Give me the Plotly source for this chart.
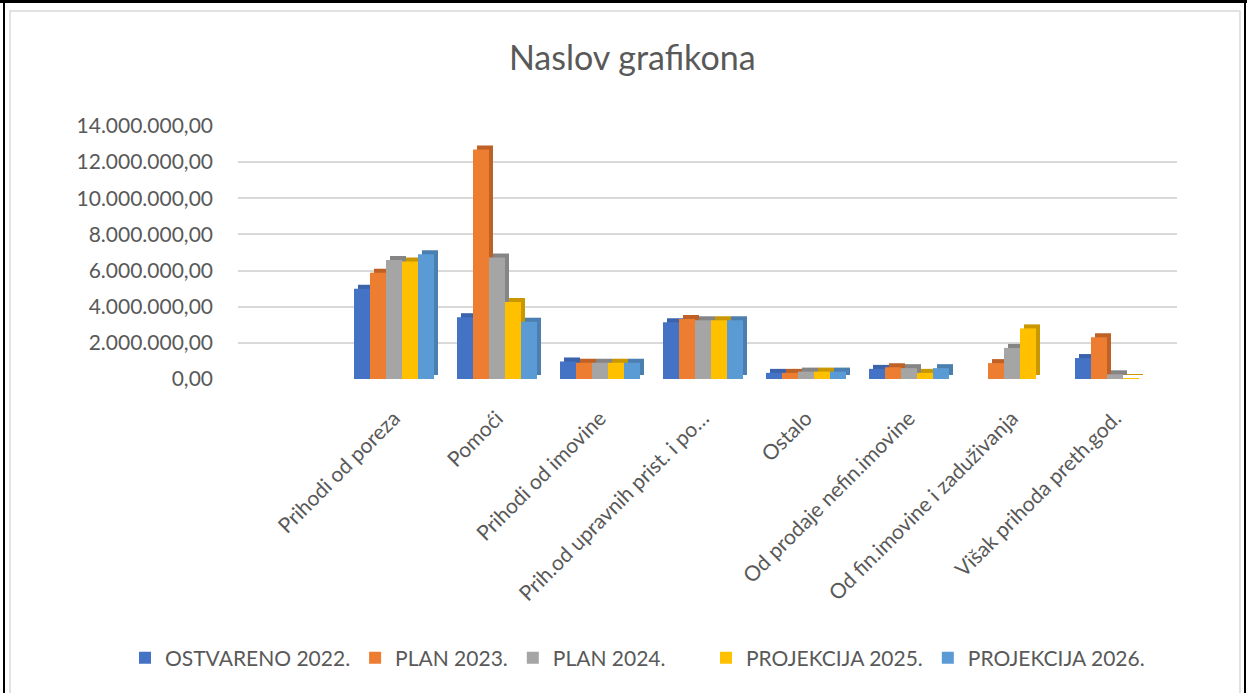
import plotly.graph_objects as go

categories = [
    "Prihodi od poreza", "Pomoći", "Prihodi od imovine",
    "Prih.od upravnih prist. i po…", "Ostalo", "Od prodaje nefin.imovine",
    "Od fin.imovine i zaduživanja", "Višak prihoda preth.god.",
]
series_names = ["OSTVARENO 2022.", "PLAN 2023.", "PLAN 2024.", "PROJEKCIJA 2025.", "PROJEKCIJA 2026."]
ostvareno_2022 = [5000000, 3420000, 970000, 3140000, 340000, 560000, 0, 1160000]
plan_2023 = [5880000, 12700000, 900000, 3320000, 340000, 650000, 880000, 2310000]
plan_2024 = [6590000, 6720000, 900000, 3250000, 410000, 600000, 1720000, 260000]
projekcija_2025 = [6500000, 4260000, 900000, 3250000, 410000, 340000, 2800000, 50000]
projekcija_2026 = [6900000, 3170000, 900000, 3250000, 410000, 600000, 0, 0]
y_tick_values = [0, 2000000, 4000000, 6000000, 8000000, 10000000, 12000000, 14000000]

series_values = [ostvareno_2022, plan_2023, plan_2024, projekcija_2025, projekcija_2026]
front_colors = ["#4472C4", "#ED7D31", "#A5A5A5", "#FFC000", "#5B9BD5"]
shade_colors = ["#3A63AC", "#BE6127", "#858585", "#C99700", "#4A7FAF"]
legend_groups = ["legend", "legend", "legend", "legend2", "legend2"]

W, H = 1247, 693
L, R = 238, 1177          # plot area (px)
T, B = 126, 379           # 14M line, zero line (px)
cat_px = 103.0            # px per category
cat0_px = 394.0           # centre of first category (px)

x_left = -(cat0_px - L) / cat_px
x_right = x_left + (R - L) / cat_px
ymax = 14000000
bar_w = 16.0 / cat_px
depth_px = 4.0
dx = depth_px / cat_px
dy = depth_px * ymax / (B - T)

fig = go.Figure()
n = len(series_values)
offsets = [(-n / 2 + j) * bar_w for j in range(n)]

# depth (side/top) faces, drawn first so the fronts sit on top
for j in range(n):
    fig.add_trace(go.Bar(
        x=list(range(len(categories))), y=series_values[j], base=dy,
        width=bar_w, offset=offsets[j] + dx,
        marker=dict(color=shade_colors[j], line=dict(width=0)),
        showlegend=False, hoverinfo="skip",
    ))
for j in range(n):
    fig.add_trace(go.Bar(
        x=list(range(len(categories))), y=series_values[j],
        width=bar_w, offset=offsets[j], name=series_names[j],
        marker=dict(color=front_colors[j], line=dict(width=0)),
        legend=legend_groups[j],
    ))

def px_x(p):
    return (p - L) / (R - L)

def px_y(p):
    return (B - p) / (B - T)

shapes = [
    dict(type="rect", xref="paper", yref="paper",
         x0=px_x(10), x1=px_x(1240), y0=px_y(700), y1=px_y(11),
         line=dict(color="#D9D9D9", width=1.5), fillcolor="rgba(0,0,0,0)", layer="below"),
    dict(type="line", xref="paper", yref="paper", x0=px_x(4), x1=px_x(4), y0=px_y(0), y1=px_y(700),
         line=dict(color="black", width=2)),
    dict(type="line", xref="paper", yref="paper", x0=px_x(1245), x1=px_x(1245), y0=px_y(0), y1=px_y(700),
         line=dict(color="black", width=2)),
    dict(type="line", xref="paper", yref="paper", x0=px_x(0), x1=px_x(1247), y0=px_y(1.5), y1=px_y(1.5),
         line=dict(color="black", width=3)),
]

legend_style = dict(
    orientation="h", xref="container", yref="container",
    xanchor="left", y=1 - 658 / H, yanchor="middle",
    font=dict(size=21, color="#595959"),
    itemclick=False, itemdoubleclick=False,
)

fig.update_layout(
    width=W, height=H,
    margin=dict(l=L, r=W - R, t=T, b=H - B),
    paper_bgcolor="white", plot_bgcolor="white",
    barmode="overlay",
    separators=",.",
    font=dict(family="Lato", color="#595959"),
    title=dict(text="Naslov grafikona", x=0.507, xref="container", xanchor="center",
               y=1 - 58 / H, yref="container", yanchor="middle",
               font=dict(family="Lato", size=34, color="#595959")),
    xaxis=dict(
        type="linear", range=[x_left, x_right],
        tickmode="array", tickvals=list(range(len(categories))), ticktext=categories,
        tickangle=-45, tickfont=dict(size=21, color="#595959"),
        showgrid=False, zeroline=False, showline=False, ticks="",
        ticklabelstandoff=22,
    ),
    yaxis=dict(
        range=[0, ymax], tickmode="array", tickvals=y_tick_values, tickformat=",.2f",
        tickfont=dict(size=21, color="#595959"),
        showgrid=True, gridcolor="#D9D9D9", gridwidth=2,
        zeroline=False, showline=False, ticks="", ticklabelstandoff=24,
    ),
    legend=dict(legend_style, x=125 / W),
    legend2=dict(legend_style, x=706 / W),
    shapes=shapes,
)

fig.write_html("out.html", config={"displayModeBar": False},
               post_script="document.body.style.margin='0px';")
